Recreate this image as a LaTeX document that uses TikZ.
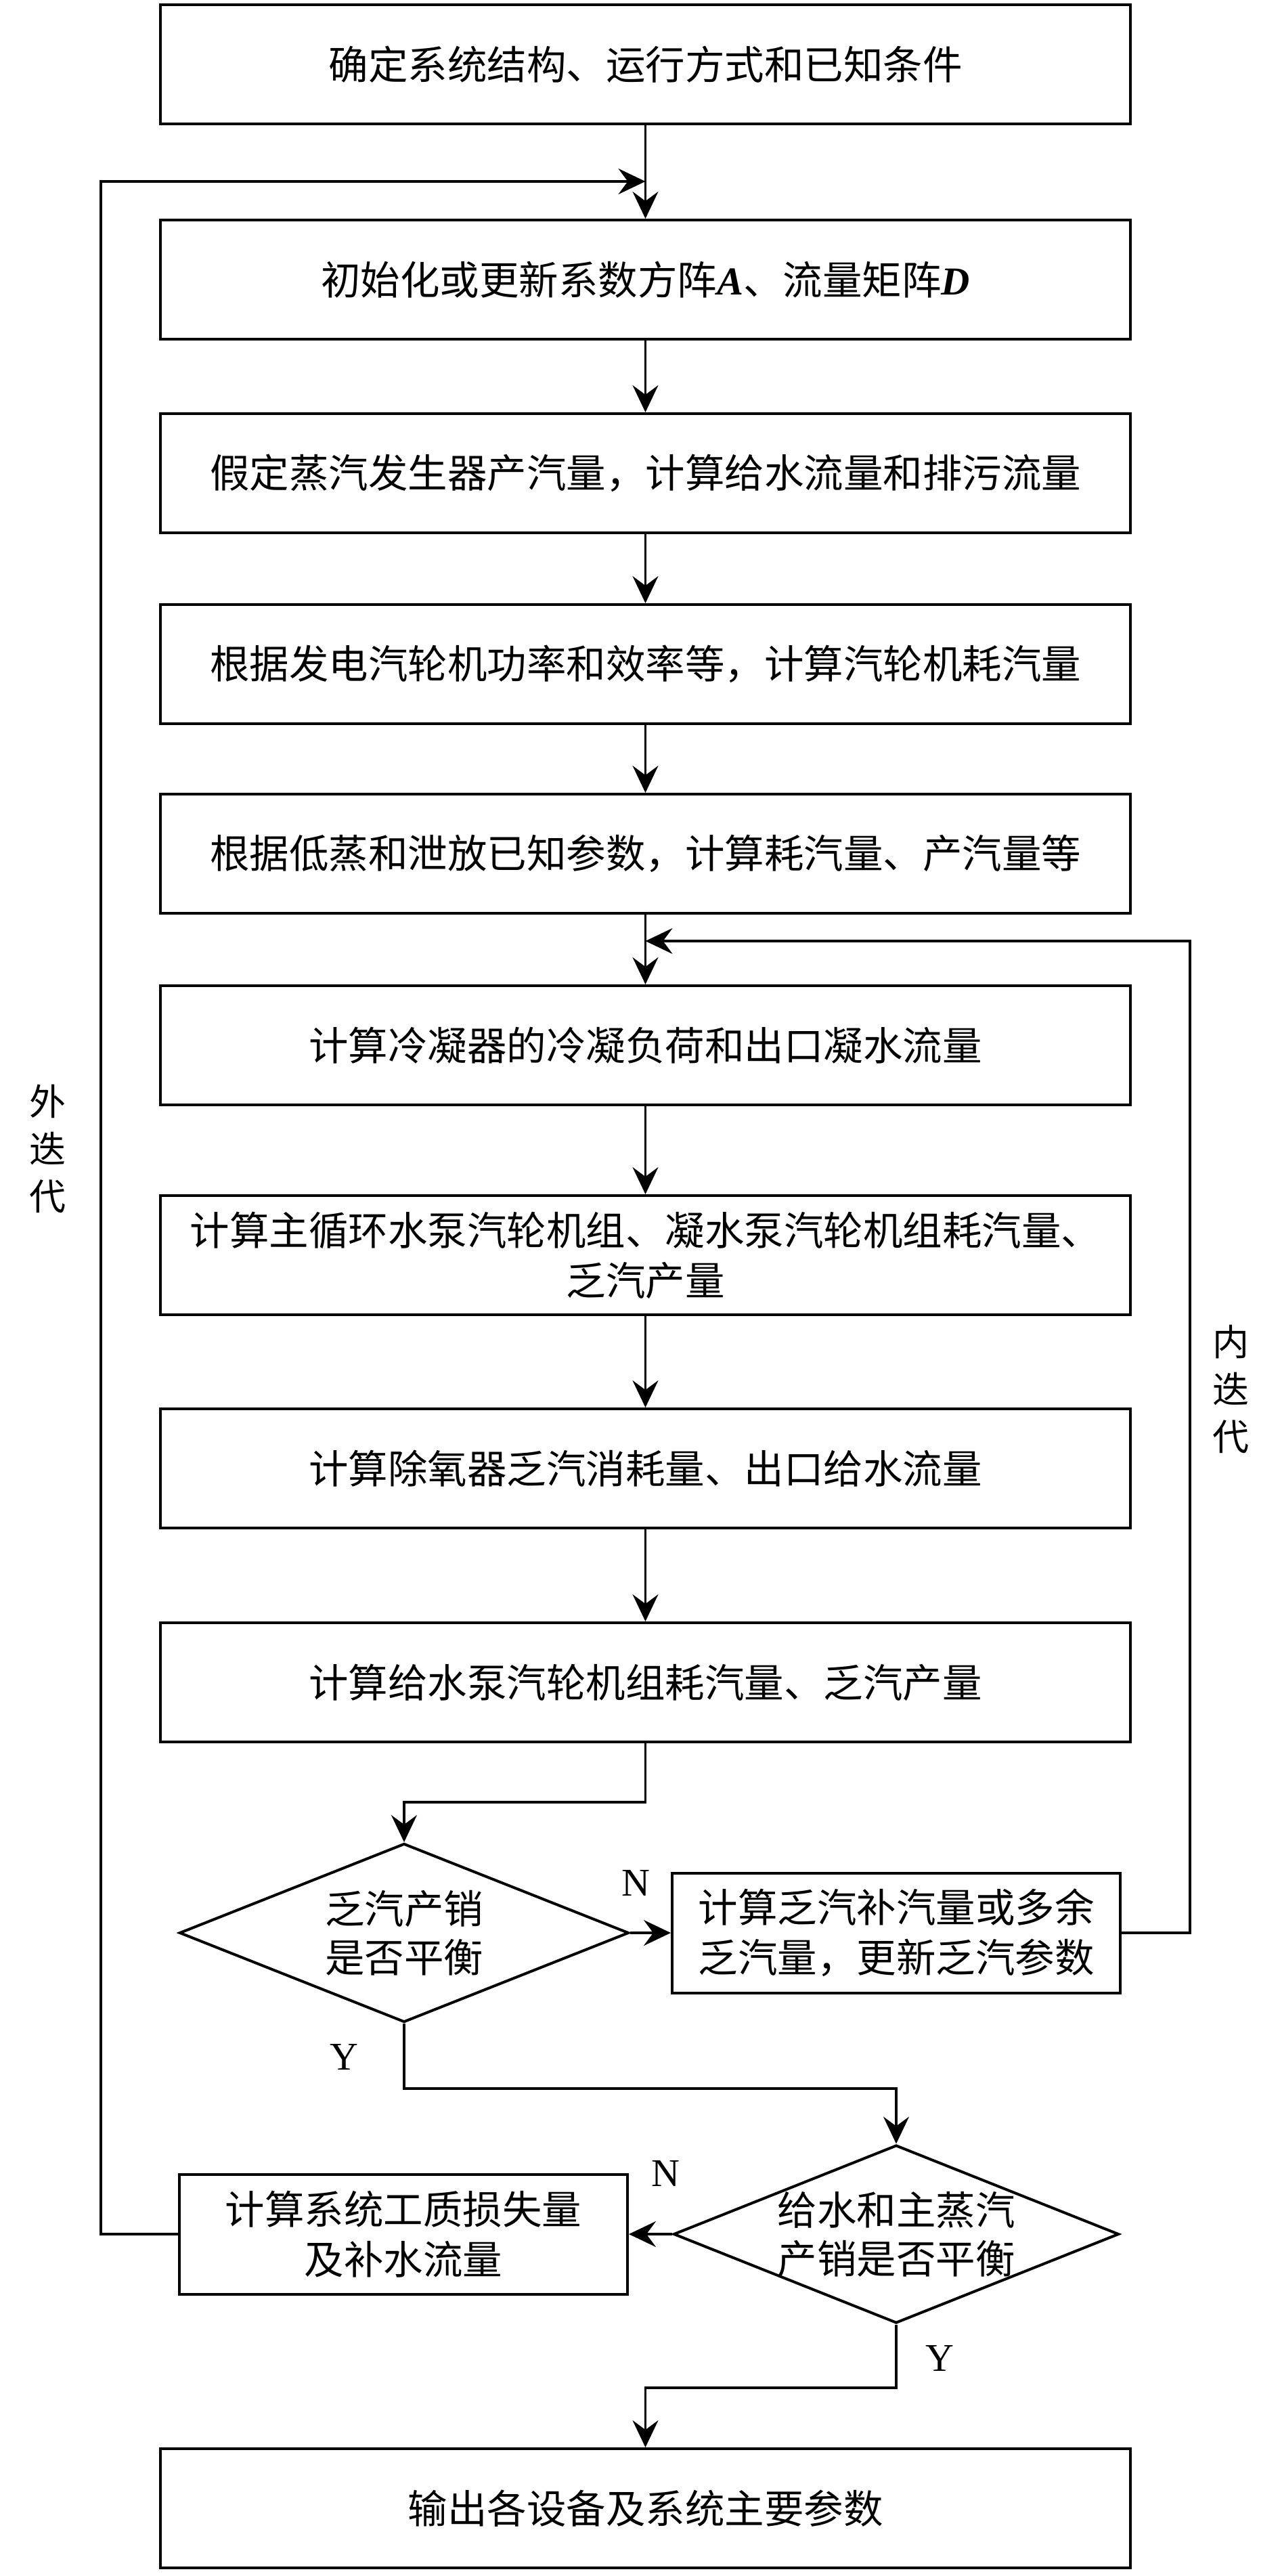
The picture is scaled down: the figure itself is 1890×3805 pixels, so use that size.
\documentclass[tikz,border=0pt]{standalone}
\usepackage{fontspec}
\setmainfont{Liberation Serif}
\newfontfamily\cjk{Noto Sans CJK SC}
\usetikzlibrary{arrows.meta,shapes.geometric}
\tikzset{
  box/.style={draw,line width=4pt,minimum width=1433pt,minimum height=176pt,inner sep=0pt,align=center,font=\cjk\fontsize{58.5}{74}\selectfont},
  sbox/.style={draw,line width=4pt,minimum width=662pt,minimum height=177pt,inner sep=0pt,align=center,font=\cjk\fontsize{58.5}{74}\selectfont},
  dia/.style={draw,line width=4pt,diamond,minimum width=664pt,minimum height=264pt,inner sep=0pt},
  dtext/.style={align=center,font=\cjk\fontsize{58.5}{72}\selectfont},
  lbl/.style={font=\rmfamily\fontsize{58}{60}\selectfont},
  vtxt/.style={align=center,font=\cjk\fontsize{54}{70}\selectfont},
  arr/.style={line width=3.5pt,-{Stealth[length=40pt,width=38pt,inset=14pt]}}
}
\newcommand{\bi}[1]{{\rmfamily\bfseries\itshape #1}}
\begin{document}
\begin{tikzpicture}[x=1pt,y=-1pt]
\useasboundingbox (0,0) rectangle (1890,3805);
\node[box] (b1) at (953.5,95) {确定系统结构、运行方式和已知条件};
\node[box] (b2) at (953.5,413) {初始化或更新系数方阵\bi{A}、流量矩阵\bi{D}};
\node[box] (b3) at (953.5,699) {假定蒸汽发生器产汽量，计算给水流量和排污流量};
\node[box] (b4) at (953.5,981) {根据发电汽轮机功率和效率等，计算汽轮机耗汽量};
\node[box] (b5) at (953.5,1261) {根据低蒸和泄放已知参数，计算耗汽量、产汽量等};
\node[box] (b6) at (953.5,1544) {计算冷凝器的冷凝负荷和出口凝水流量};
\node[box] (b7) at (953.5,1854) {计算主循环水泵汽轮机组、凝水泵汽轮机组耗汽量、\\乏汽产量};
\node[box] (b8) at (953.5,2169) {计算除氧器乏汽消耗量、出口给水流量};
\node[box] (b9) at (953.5,2485) {计算给水泵汽轮机组耗汽量、乏汽产量};
\node[dia] (d1) at (597,2855) {};
\node[dtext] (t1) at (d1.center) {乏汽产销\\是否平衡};
\node[sbox] (b10) at (1324,2855) {计算乏汽补汽量或多余\\乏汽量，更新乏汽参数};
\node[dia,minimum width=658pt,minimum height=263pt] (d2) at (1324,3300) {};
\node[dtext] (t2) at (d2.center) {给水和主蒸汽\\产销是否平衡};
\node[sbox] (b11) at (596,3300) {计算系统工质损失量\\及补水流量};
\node[box] (b12) at (953.5,3705) {输出各设备及系统主要参数};

\node[lbl] (n1) at (939,2781) {N};
\node[lbl] (y1) at (508,3038) {Y};
\node[lbl] (n2) at (983,3210) {N};
\node[lbl] (y2) at (1388,3483) {Y};
\node[vtxt] (outer) at (70,1697) {外\\迭\\代};
\node[vtxt] (inner) at (1818,2052) {内\\迭\\代};

\coordinate (o1) at (149,3300);
\coordinate (o2) at (149,268);
\coordinate (o3) at (953.5,268);
\coordinate (i1) at (1758,2855);
\coordinate (i2) at (1758,1390);
\coordinate (i3) at (953.5,1390);
\coordinate (c1) at (953.5,2662);
\coordinate (c2) at (597,2662);
\coordinate (c3) at (597,3085);
\coordinate (c4) at (1324,3085);
\coordinate (c5) at (1324,3527);
\coordinate (c6) at (953.5,3527);

\draw[arr] (b1.south) -- (b2.north);
\draw[arr] (b2.south) -- (b3.north);
\draw[arr] (b3.south) -- (b4.north);
\draw[arr] (b4.south) -- (b5.north);
\draw[arr] (b5.south) -- (b6.north);
\draw[arr] (b6.south) -- (b7.north);
\draw[arr] (b7.south) -- (b8.north);
\draw[arr] (b8.south) -- (b9.north);
\draw[arr] (b11.west) -- (o1) -- (o2) -- (o3);
\draw[arr] (b10.east) -- (i1) -- (i2) -- (i3);
\draw[arr] (b9.south) -- (c1) -- (c2) -- (d1.north);
\draw[arr] (d1.east) -- (b10.west);
\draw[arr] (d1.south) -- (c3) -- (c4) -- (d2.north);
\draw[arr] (d2.west) -- (b11.east);
\draw[arr] (d2.south) -- (c5) -- (c6) -- (b12.north);
\end{tikzpicture}
\end{document}
